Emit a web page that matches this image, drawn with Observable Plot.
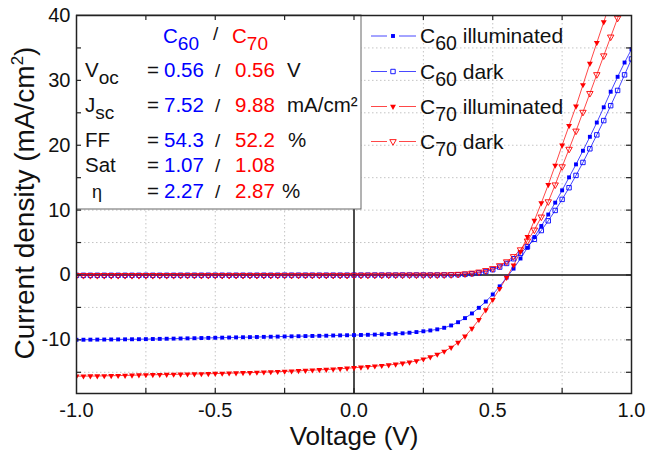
<!DOCTYPE html>
<html><head><meta charset="utf-8">
<script src="https://cdn.jsdelivr.net/npm/d3@7"></script>
<script src="https://cdn.jsdelivr.net/npm/@observablehq/plot@0.6"></script>
<style>body{margin:0;background:#fff}#chart{width:648px;height:451px}</style>
</head><body><div id="chart"></div>
<script>
const voltage = [
-1.000,-0.975,-0.950,-0.925,-0.900,-0.875,-0.850,-0.825,-0.800,-0.775,
-0.750,-0.725,-0.700,-0.675,-0.650,-0.625,-0.600,-0.575,-0.550,-0.525,
-0.500,-0.475,-0.450,-0.425,-0.400,-0.375,-0.350,-0.325,-0.300,-0.275,
-0.250,-0.225,-0.200,-0.175,-0.150,-0.125,-0.100,-0.075,-0.050,-0.025,
0.000,0.025,0.050,0.075,0.100,0.125,0.150,0.175,0.200,0.225,
0.250,0.275,0.300,0.325,0.350,0.375,0.400,0.425,0.450,0.475,
0.500,0.525,0.550,0.575,0.600,0.625,0.650,0.675,0.700,0.725,
0.750,0.775,0.800,0.825,0.850,0.875,0.900,0.925,0.950,0.975,
1.000];
const c60Illuminated = [
-9.99,-9.98,-9.97,-9.96,-9.95,-9.94,-9.93,-9.92,-9.91,-9.90,
-9.89,-9.87,-9.85,-9.83,-9.81,-9.79,-9.77,-9.75,-9.72,-9.70,
-9.68,-9.66,-9.64,-9.62,-9.60,-9.58,-9.56,-9.54,-9.52,-9.50,
-9.48,-9.46,-9.44,-9.42,-9.40,-9.38,-9.36,-9.33,-9.31,-9.29,
-9.27,-9.25,-9.22,-9.19,-9.15,-9.10,-9.05,-8.99,-8.90,-8.80,
-8.68,-8.55,-8.38,-8.14,-7.78,-7.28,-6.65,-5.93,-5.06,-4.10,
-3.00,-1.75,-0.39,0.98,2.54,4.20,5.85,7.55,9.32,11.15,
13.05,15.05,17.05,19.15,21.30,23.50,25.85,28.25,30.55,32.75,
34.80];
const c60Dark = [
-0.05,-0.05,-0.05,-0.05,-0.05,-0.05,-0.05,-0.05,-0.05,-0.05,
-0.05,-0.05,-0.05,-0.05,-0.05,-0.04,-0.04,-0.04,-0.04,-0.04,
-0.04,-0.04,-0.04,-0.04,-0.04,-0.04,-0.04,-0.04,-0.04,-0.04,
-0.03,-0.03,-0.03,-0.03,-0.03,-0.03,-0.03,-0.03,-0.03,-0.03,
-0.02,-0.02,-0.02,-0.01,-0.01,-0.01,-0.01,0.00,0.00,0.00,
0.00,0.00,0.00,0.01,0.02,0.05,0.10,0.19,0.33,0.53,
0.82,1.22,1.78,2.50,3.35,4.35,5.50,6.85,8.35,9.95,
11.65,13.45,15.35,17.35,19.45,21.60,23.80,26.10,28.45,30.85,
33.30];
const c70Illuminated = [
-15.60,-15.59,-15.58,-15.57,-15.55,-15.53,-15.51,-15.49,-15.46,-15.43,
-15.40,-15.38,-15.36,-15.34,-15.32,-15.30,-15.28,-15.26,-15.24,-15.22,
-15.20,-15.17,-15.14,-15.11,-15.08,-15.05,-15.02,-14.98,-14.94,-14.90,
-14.86,-14.82,-14.77,-14.72,-14.67,-14.62,-14.57,-14.51,-14.45,-14.38,
-14.30,-14.22,-14.14,-14.06,-13.97,-13.87,-13.76,-13.62,-13.46,-13.25,
-12.98,-12.65,-12.25,-11.78,-11.18,-10.42,-9.45,-8.25,-6.90,-5.40,
-3.80,-2.10,-0.40,1.50,3.60,5.90,8.40,11.10,13.90,16.90,
20.00,23.00,26.00,29.30,32.60,35.80,39.00,42.20,null,null,
null];
const c70Dark = [
-0.06,-0.06,-0.06,-0.06,-0.06,-0.06,-0.06,-0.06,-0.06,-0.06,
-0.06,-0.06,-0.06,-0.06,-0.06,-0.05,-0.05,-0.05,-0.05,-0.05,
-0.05,-0.05,-0.05,-0.05,-0.05,-0.05,-0.05,-0.05,-0.05,-0.05,
-0.04,-0.04,-0.04,-0.04,-0.04,-0.04,-0.04,-0.04,-0.04,-0.04,
-0.03,-0.03,-0.02,-0.02,-0.02,-0.01,-0.01,-0.01,0.00,0.00,
0.00,0.00,0.01,0.03,0.06,0.11,0.19,0.30,0.47,0.70,
1.00,1.45,2.05,2.85,3.90,5.25,6.95,8.95,11.30,13.90,
16.70,19.40,22.20,25.10,28.00,30.90,33.80,36.70,39.60,42.50,
null];

const xTickValues = [-1, -0.5, 0, 0.5, 1];
const yTickValues = [-10, 0, 10, 20, 30, 40];
const xMinorTicks = [-0.75, -0.5, -0.25, 0, 0.25, 0.5, 0.75];
const yMinorTicks = [-15, -10, -5, 0, 5, 10, 15, 20, 25, 30, 35];
const xGridValues = [-0.75, -0.5, -0.25, 0.25, 0.5, 0.75];
const yGridValues = [-15, -10, -5, 5, 10, 15, 20, 25, 30, 35];

const legendLabels = [["C", "60", " illuminated"], ["C", "60", " dark"], ["C", "70", " illuminated"], ["C", "70", " dark"]];
const tableLabels = [["V", "oc"], ["J", "sc"], ["FF", ""], ["Sat", ""], ["η", ""]];
const tableC60 = ["0.56", "7.52", "54.3", "1.07", "2.27"];
const tableC70 = ["0.56", "9.88", "52.2", "1.08", "2.87"];
const tableUnits = ["V", "mA/cm²", "%", "", "%"];

const BLUE = "#0000ff", RED = "#ff0000";
const triDown = {draw(ctx, size) {
  const y = -Math.sqrt(size / (Math.sqrt(3) * 3));
  ctx.moveTo(0, -y * 2);
  ctx.lineTo(-Math.sqrt(3) * y, y);
  ctx.lineTo(Math.sqrt(3) * y, y);
  ctx.closePath();
}};

function rows(values) {
  return voltage.map((v, i) => ({V: v, J: values[i]})).filter(d => d.J != null);
}
const s60i = rows(c60Illuminated), s60d = rows(c60Dark), s70i = rows(c70Illuminated), s70d = rows(c70Dark);

const styles = [
  {data: s60i, color: BLUE, symbol: "square", r: 2.2, filled: true},
  {data: s60d, color: BLUE, symbol: "square", r: 2.5, filled: false},
  {data: s70i, color: RED, symbol: triDown, r: 2.2, filled: true},
  {data: s70d, color: RED, symbol: triDown, r: 2.4, filled: false}
];

const curveMarks = [];
for (const s of styles) {
  curveMarks.push(Plot.line(s.data, {x: "V", y: "J", stroke: s.color, strokeWidth: 0.9, strokeOpacity: 0.8, clip: true}));
}
for (const s of styles) {
  curveMarks.push(Plot.dot(s.data, {x: "V", y: "J", symbol: s.symbol, r: s.r, clip: true,
    fill: s.filled ? s.color : "none", stroke: s.filled ? "none" : s.color, strokeWidth: 0.9}));
}

const plot = Plot.plot({
  width: 648, height: 451,
  marginLeft: 76, marginRight: 17, marginTop: 15, marginBottom: 58,
  style: {fontFamily: "Liberation Sans, Arial, sans-serif", fontSize: "20px", color: "#111", background: "#fff"},
  x: {domain: [-1, 1], ticks: xTickValues, tickFormat: d => d.toFixed(1), tickSize: 0, tickPadding: 9, label: null},
  y: {domain: [-18.27, 40], ticks: yTickValues, tickFormat: d => String(d), tickSize: 0, tickPadding: 6, label: null},
  marks: [
    Plot.ruleX(xGridValues, {stroke: "#c4c4c4", strokeDasharray: "1.5,2.5", strokeWidth: 1}),
    Plot.ruleY(yGridValues, {stroke: "#c4c4c4", strokeDasharray: "1.5,2.5", strokeWidth: 1}),
    Plot.ruleX([0], {stroke: "#111", strokeWidth: 1.5}),
    Plot.ruleY([0], {stroke: "#111", strokeWidth: 1.5}),
    ...curveMarks,
    Plot.ruleX(xMinorTicks, {insetTop: 373, stroke: "#222", strokeWidth: 1.2}),
    Plot.ruleX(xMinorTicks, {insetBottom: 373, stroke: "#222", strokeWidth: 1.2}),
    Plot.ruleY(yMinorTicks, {insetRight: 550, stroke: "#222", strokeWidth: 1.2}),
    Plot.ruleY(yMinorTicks, {insetLeft: 550, stroke: "#222", strokeWidth: 1.2}),
    Plot.frame({stroke: "#222", strokeWidth: 1.5})
  ]
});
document.getElementById("chart").append(plot);

const svg = d3.select(plot);
const FONT = "Liberation Sans, Arial, sans-serif";

// table box, drawn under curves
const firstLine = plot.querySelector('[aria-label="line"]');
const box = document.createElementNS("http://www.w3.org/2000/svg", "rect");
box.setAttribute("x", 76.5); box.setAttribute("y", 15);
box.setAttribute("width", 284.5); box.setAttribute("height", 194);
box.setAttribute("fill", "#fff"); box.setAttribute("stroke", "#666"); box.setAttribute("stroke-width", 1);
plot.insertBefore(box, firstLine);

const g = svg.append("g").attr("font-family", FONT).attr("fill", "#111").attr("text-anchor", "start");

function subText(x, y, main, sub, color, size, subSize, after) {
  const t = g.append("text").attr("x", x).attr("y", y).attr("font-size", size).attr("fill", color);
  t.append("tspan").text(main);
  if (sub) t.append("tspan").attr("font-size", subSize).attr("dy", 7).text(sub);
  if (after) t.append("tspan").attr("dy", sub ? -7 : 0).text(after);
  return t;
}

// table header
subText(163, 43, "C", "60", BLUE, 20.5, 19);
g.append("text").attr("x", 213).attr("y", 40).attr("font-size", 19).text("/");
subText(232, 43, "C", "70", RED, 20.5, 19);

const rowY = [77, 112, 147, 172, 198];
const unitX = [287, 287, 288, 288, 282];
tableLabels.forEach((lab, i) => {
  const y = rowY[i];
  if (lab[0] === "η") {
    g.append("text").attr("x", 92).attr("y", y).attr("font-size", 18).text(lab[0]);
  } else {
    subText(85, y, lab[0], lab[1], "#111", 20.5, 19);
  }
  g.append("text").attr("x", 147).attr("y", y).attr("font-size", 20.5).text("=");
  g.append("text").attr("x", 164).attr("y", y).attr("font-size", 20.5).attr("fill", BLUE).text(tableC60[i]);
  g.append("text").attr("x", 215).attr("y", y).attr("font-size", 19).text("/");
  g.append("text").attr("x", 235).attr("y", y).attr("font-size", 20.5).attr("fill", RED).text(tableC70[i]);
  if (tableUnits[i]) g.append("text").attr("x", unitX[i]).attr("y", y).attr("font-size", 20.5).text(tableUnits[i]);
});

// legend
const legY = [36, 71.5, 106.5, 141.5];
styles.forEach((s, i) => {
  const y = legY[i];
  g.append("line").attr("x1", 371).attr("x2", 387).attr("y1", y).attr("y2", y).attr("stroke", s.color).attr("stroke-width", 0.9).attr("stroke-opacity", 0.8);
  g.append("line").attr("x1", 399).attr("x2", 416).attr("y1", y).attr("y2", y).attr("stroke", s.color).attr("stroke-width", 0.9).attr("stroke-opacity", 0.8);
  const sym = typeof s.symbol === "string" ? d3.symbolSquare : s.symbol;
  g.append("path").attr("transform", `translate(393,${y})`)
    .attr("d", d3.symbol(sym, Math.PI * s.r * s.r)())
    .attr("fill", s.filled ? s.color : "none").attr("stroke", s.filled ? "none" : s.color).attr("stroke-width", 0.9);
  const lab = legendLabels[i];
  subText(420, y + 7, lab[0], lab[1], "#111", 21, 19.5, lab[2]);
});

// axis titles
g.append("text").attr("x", 354).attr("y", 445).attr("text-anchor", "middle").attr("font-size", 26).text("Voltage (V)");
const yt = g.append("text").attr("transform", "translate(34,203) rotate(-90)").attr("text-anchor", "middle").attr("font-size", 28);
yt.append("tspan").text("Current density (mA/cm");
yt.append("tspan").attr("font-size", 17).attr("dy", -11).text("2");
yt.append("tspan").attr("dy", 11).text(")");
</script>
</body></html>
